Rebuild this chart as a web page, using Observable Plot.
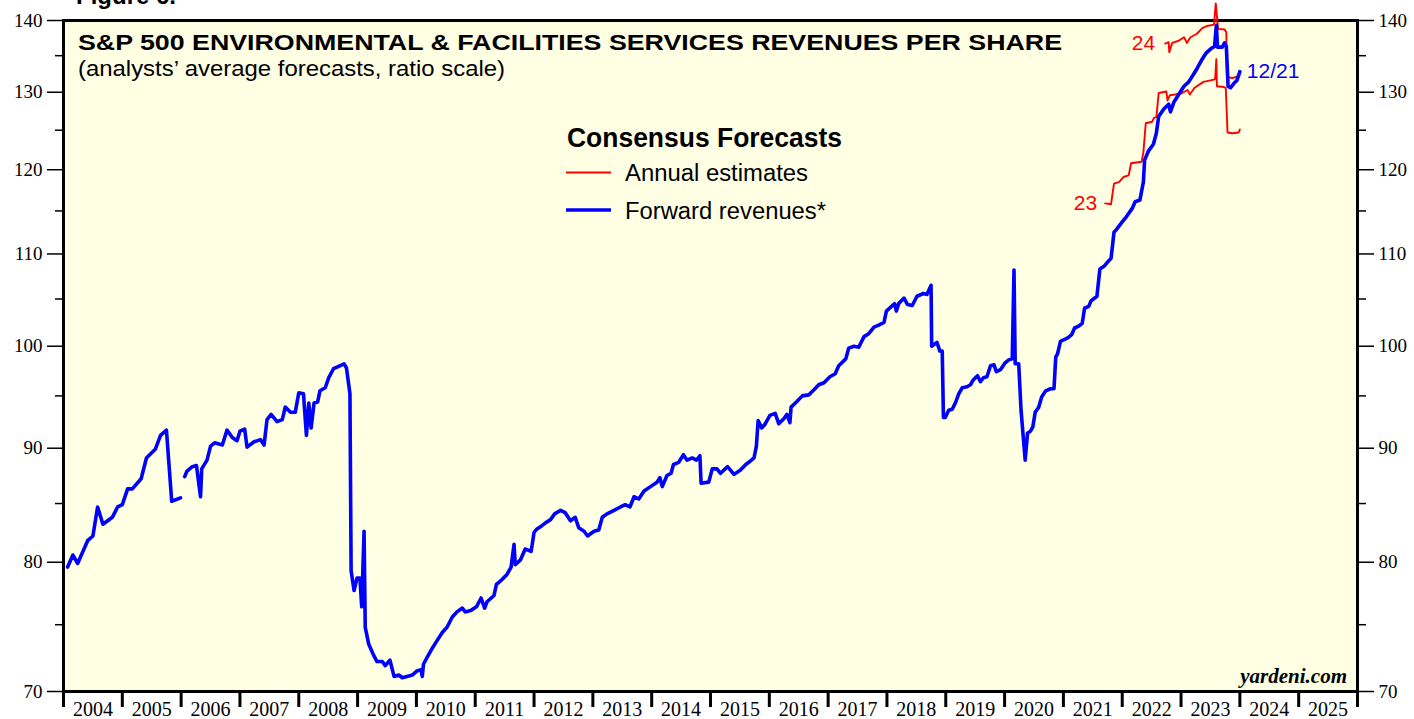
<!DOCTYPE html>
<html><head><meta charset="utf-8">
<script src="https://cdn.jsdelivr.net/npm/d3@7"></script>
<script src="https://cdn.jsdelivr.net/npm/@observablehq/plot@0.6"></script>
<style>body{margin:0;background:#fff;} #chart svg{display:block}</style>
</head><body><div id="chart"></div>
<script>
// Forward revenues (blue), decimal year / value; NaN marks the gap
const fwdYear = [2004.07,2004.16,2004.24,2004.41,2004.50,2004.58,2004.67,2004.83,2004.92,2005.00,2005.09,2005.17,2005.32,2005.41,2005.56,2005.65,2005.75,2005.84,2005.99,
2006.02,
2006.06,2006.10,2006.19,2006.26,2006.33,2006.35,2006.44,2006.50,2006.57,2006.70,2006.78,2006.87,2006.95,2007.00,2007.08,2007.12,2007.24,2007.35,2007.41,2007.46,2007.53,2007.63,2007.72,2007.77,2007.86,2007.94,
2008.00,2008.08,2008.13,2008.17,2008.21,2008.26,2008.32,2008.36,2008.45,2008.51,2008.59,2008.66,2008.77,2008.81,2008.87,
2008.89,2008.94,2008.99,2009.04,2009.07,2009.11,2009.13,2009.19,2009.27,2009.33,2009.42,2009.47,2009.55,2009.62,2009.70,2009.76,2009.84,2009.93,
2010.01,2010.08,2010.10,2010.12,2010.18,2010.27,2010.34,2010.44,2010.52,2010.61,2010.69,2010.78,2010.83,2010.92,
2011.02,2011.10,2011.16,2011.20,2011.32,2011.36,2011.46,2011.54,2011.61,2011.66,2011.68,2011.77,2011.85,2011.95,
2012.00,2012.05,2012.14,2012.19,2012.28,2012.35,2012.45,2012.53,2012.62,2012.70,2012.76,2012.85,2012.91,
2013.02,2013.10,2013.16,2013.24,2013.36,2013.47,2013.55,2013.63,2013.70,2013.78,2013.87,2013.98,
2014.09,2014.14,2014.18,2014.26,2014.33,2014.37,2014.46,2014.54,2014.60,2014.69,2014.76,2014.82,2014.84,2014.97,
2015.03,2015.11,2015.17,2015.29,2015.40,2015.51,2015.60,2015.65,2015.74,2015.78,2015.81,2015.87,2015.92,
2016.01,2016.10,2016.16,2016.25,2016.30,2016.35,2016.37,2016.46,2016.56,2016.67,2016.76,2016.84,2016.93,
2017.03,2017.12,2017.18,2017.30,2017.35,2017.44,2017.52,2017.61,2017.69,2017.78,2017.86,2017.95,2017.99,
2018.06,2018.13,2018.16,2018.20,2018.29,2018.35,2018.43,2018.51,2018.62,2018.68,2018.75,2018.76,2018.85,2018.90,2018.94,2018.96,2018.99,
2019.05,2019.11,2019.17,2019.22,2019.28,2019.36,2019.42,2019.47,2019.54,2019.59,2019.64,2019.70,2019.76,2019.82,2019.86,2019.93,
2020.01,2020.07,2020.13,2020.16,2020.18,2020.24,2020.28,2020.35,2020.39,2020.44,2020.48,2020.52,2020.58,2020.63,2020.70,2020.78,2020.84,2020.87,2020.90,2020.95,
2021.02,2021.08,2021.14,2021.19,2021.26,2021.32,2021.36,2021.43,2021.47,2021.57,2021.62,2021.69,2021.74,2021.81,2021.86,2021.90,
2022.00,2022.07,2022.17,2022.22,2022.30,2022.36,2022.38,2022.45,2022.53,2022.58,2022.62,2022.71,2022.79,2022.82,2022.88,2022.96,
2023.05,2023.13,2023.21,2023.27,2023.35,2023.43,2023.51,2023.57,2023.60,2023.62,2023.70,2023.74,2023.77,2023.80,2023.84,2023.90,2023.95,2024.00];
const fwdValue = [79.6,80.6,79.9,81.8,82.2,84.7,83.2,83.8,84.7,84.9,86.3,86.3,87.2,89.1,89.9,91.2,91.7,85.2,85.5,
NaN,
87.4,87.9,88.3,88.4,85.6,88.1,88.9,90.2,90.5,90.3,91.7,91.0,90.7,91.6,91.8,90.1,90.6,90.8,90.3,92.7,93.2,92.5,92.7,93.9,93.4,93.4,
95.3,95.2,91.2,94.3,91.9,94.3,94.4,95.5,95.8,96.8,97.7,97.9,98.2,97.8,95.2,
79.3,77.7,78.7,78.7,76.4,82.6,74.8,73.5,72.7,72.2,72.2,71.9,72.3,71.1,71.2,71.0,71.1,71.2,
71.5,71.6,71.1,72.0,72.5,73.2,73.7,74.4,74.8,75.6,76.0,76.3,76.0,76.1,
76.4,77.1,76.3,76.8,77.3,78.2,78.6,79.0,79.6,81.5,79.8,80.2,81.1,80.9,
82.5,82.8,83.1,83.3,83.6,84.1,84.4,84.2,83.5,83.8,82.9,82.6,82.2,
82.6,82.7,83.8,84.1,84.4,84.7,84.9,84.7,85.6,85.4,86.1,86.5,
86.9,87.3,86.5,87.5,87.7,88.5,88.7,89.4,88.9,89.1,88.9,89.3,86.8,86.9,
88.1,88.1,87.7,88.3,87.6,88.0,88.5,88.7,89.1,90.2,92.6,91.9,92.2,
93.1,93.3,92.3,92.8,93.2,92.4,93.9,94.4,95.0,95.1,95.6,96.1,96.3,
96.9,97.2,98.0,98.7,99.8,100.0,99.9,101.0,101.3,102.0,102.2,102.5,103.7,
104.1,104.5,103.7,104.5,105.1,104.4,104.3,105.3,105.6,105.5,106.5,100.0,100.4,99.5,99.5,92.9,92.9,
93.6,93.7,94.4,95.2,95.8,95.9,96.1,96.6,97.0,96.4,96.8,96.9,98.0,98.1,97.4,97.6,
98.3,98.6,98.7,108.2,98.2,98.2,93.6,88.9,91.4,91.6,92.0,93.4,93.9,94.9,95.5,95.7,95.7,98.9,99.2,100.5,
100.7,100.9,101.2,101.9,102.1,102.4,104.0,104.2,104.8,105.3,108.3,108.6,109.0,109.5,112.5,112.8,
113.7,114.3,115.3,116.1,116.3,118.5,121.2,122.4,123.2,124.6,126.8,127.8,128.4,127.4,128.7,129.7,
130.8,131.4,132.4,133.2,134.4,135.4,136.0,136.3,139.3,136.2,136.2,136.8,136.3,130.8,130.6,131.2,131.6,132.8];

// Annual estimates for 2023 (red)
const est23Year = [2021.71,2021.81,2021.86,2021.95,2022.02,2022.11,2022.15,2022.33,2022.36,2022.40,2022.51,2022.54,2022.58,2022.62,2022.75,2022.77,2022.81,2022.90,2023.02,2023.11,2023.15,2023.23,2023.38,2023.56,2023.58,2023.60,2023.61,2023.73,2023.76,2023.79,2023.87,2023.98,2024.00];
const est23Value = [115.9,115.8,118.3,118.5,119.1,119.3,120.8,121.0,122.2,125.9,126.1,126.6,126.7,129.9,130.1,128.9,129.6,129.7,129.9,130.3,129.7,130.6,131.4,131.7,131.8,134.5,130.8,130.7,130.6,124.7,124.6,124.7,125.1];

// Annual estimates for 2024 (red)
const est24Year = [2022.73,2022.79,2022.80,2022.85,2022.96,2023.05,2023.10,2023.16,2023.27,2023.36,2023.44,2023.56,2023.59,2023.63,2023.74,2023.77,2023.78,2023.87,2023.95,2023.99];
const est24Value = [136.7,136.9,135.5,136.8,137.1,137.6,136.8,137.6,138.1,138.9,139.2,139.4,142.5,138.8,138.7,138.3,132.1,131.9,132.1,132.3];

const years = d3.range(2004, 2026);           // year labels
const yearBounds = d3.range(2004, 2027);      // year tick marks
const majorTicks = [70, 80, 90, 100, 110, 120, 130, 140];
const minorTicks = [75, 85, 95, 105, 115, 125, 135];

const fwd = fwdYear.map((x, i) => ({x, y: fwdValue[i]}));
const e23 = est23Year.map((x, i) => ({x, y: est23Value[i]}));
const e24 = est24Year.map((x, i) => ({x, y: est24Value[i]}));

const serif = "'Liberation Serif','Times New Roman',serif";
const sans = "'Liberation Sans',Arial,Helvetica,sans-serif";
const bg = "#ffffe4";

const chart = Plot.plot({
  width: 1414, height: 719,
  marginLeft: 63, marginRight: 57, marginTop: 20, marginBottom: 28,
  style: {fontFamily: serif, fontSize: "19px", background: "white", overflow: "visible", color: "black"},
  x: {domain: [2004, 2026]},
  y: {type: "log", domain: [70, 140]},
  marks: [
    Plot.frame({fill: bg}),
    Plot.axisY(majorTicks, {anchor: "left", tickSize: 16, tickPadding: 5, strokeWidth: 1.5, tickFormat: d => d, fontSize: 19, fontFamily: serif, label: null}),
    Plot.axisY(minorTicks, {anchor: "left", tickSize: 8, strokeWidth: 1.5, tickFormat: () => "", label: null}),
    Plot.axisY(majorTicks, {anchor: "right", tickSize: 16, tickPadding: 5, strokeWidth: 1.5, tickFormat: d => d, fontSize: 19, fontFamily: serif, label: null}),
    Plot.axisY(minorTicks, {anchor: "right", tickSize: 8, strokeWidth: 1.5, tickFormat: () => "", label: null}),
    Plot.axisX(yearBounds, {anchor: "bottom", tickSize: 16, strokeWidth: 3, tickFormat: () => "", label: null}),
    Plot.axisX(years.map(y => y + 0.5), {anchor: "bottom", tickSize: 0, tickPadding: 10, tickFormat: d => String(Math.floor(d)), fontSize: 20, fontFamily: serif, label: null}),
    Plot.frame({stroke: "black", strokeWidth: 3}),
    Plot.line(e23, {x: "x", y: "y", stroke: "#ff0000", strokeWidth: 1.9}),
    Plot.line(e24, {x: "x", y: "y", stroke: "#ff0000", strokeWidth: 1.9}),
    Plot.line(fwd, {x: "x", y: "y", stroke: "#0000ff", strokeWidth: 3.6, strokeLinejoin: "round"}),
    Plot.text([e23[0]], {x: "x", y: "y", text: () => "23", textAnchor: "end", dx: -8, fill: "#ff0000", fontSize: 21, fontFamily: sans}),
    Plot.text([e24[0]], {x: "x", y: "y", text: () => "24", textAnchor: "end", dx: -10, fill: "#ff0000", fontSize: 21, fontFamily: sans}),
    Plot.text([fwd[fwd.length - 1]], {x: "x", y: "y", text: () => "12/21", textAnchor: "start", dx: 7, fill: "#0000ff", fontSize: 21, fontFamily: sans})
  ]
});

document.getElementById("chart").appendChild(chart);
const svg = d3.select(chart);

function addText(x, y, str, opts) {
  const t = svg.append("text").attr("x", x).attr("y", y).text(str)
    .attr("font-family", opts.family || sans)
    .attr("font-size", opts.size)
    .attr("font-weight", opts.weight || "normal")
    .attr("font-style", opts.style || "normal")
    .attr("fill", opts.fill || "black")
    .attr("text-anchor", opts.anchor || "start");
  if (opts.len) t.attr("textLength", opts.len).attr("lengthAdjust", "spacingAndGlyphs");
  return t;
}

addText(76, 4, "Figure 6.", {size: 24, weight: "bold"});
addText(78, 50, "S&P 500 ENVIRONMENTAL & FACILITIES SERVICES REVENUES PER SHARE", {size: 22, weight: "bold", len: 984});
addText(78, 76, "(analysts\u2019 average forecasts, ratio scale)", {size: 22, len: 427});
addText(567, 147, "Consensus Forecasts", {size: 27, weight: "bold", len: 275});
svg.append("line").attr("x1", 566).attr("x2", 611).attr("y1", 172.5).attr("y2", 172.5).attr("stroke", "#ff0000").attr("stroke-width", 1.9);
addText(625, 181, "Annual estimates", {size: 23, len: 183});
svg.append("line").attr("x1", 566).attr("x2", 611).attr("y1", 210).attr("y2", 210).attr("stroke", "#0000ff").attr("stroke-width", 3.6);
addText(625, 219, "Forward revenues*", {size: 23, len: 201});
addText(1347, 683, "yardeni.com", {size: 21, weight: "bold", style: "italic", family: serif, anchor: "end"});
</script></body></html>
